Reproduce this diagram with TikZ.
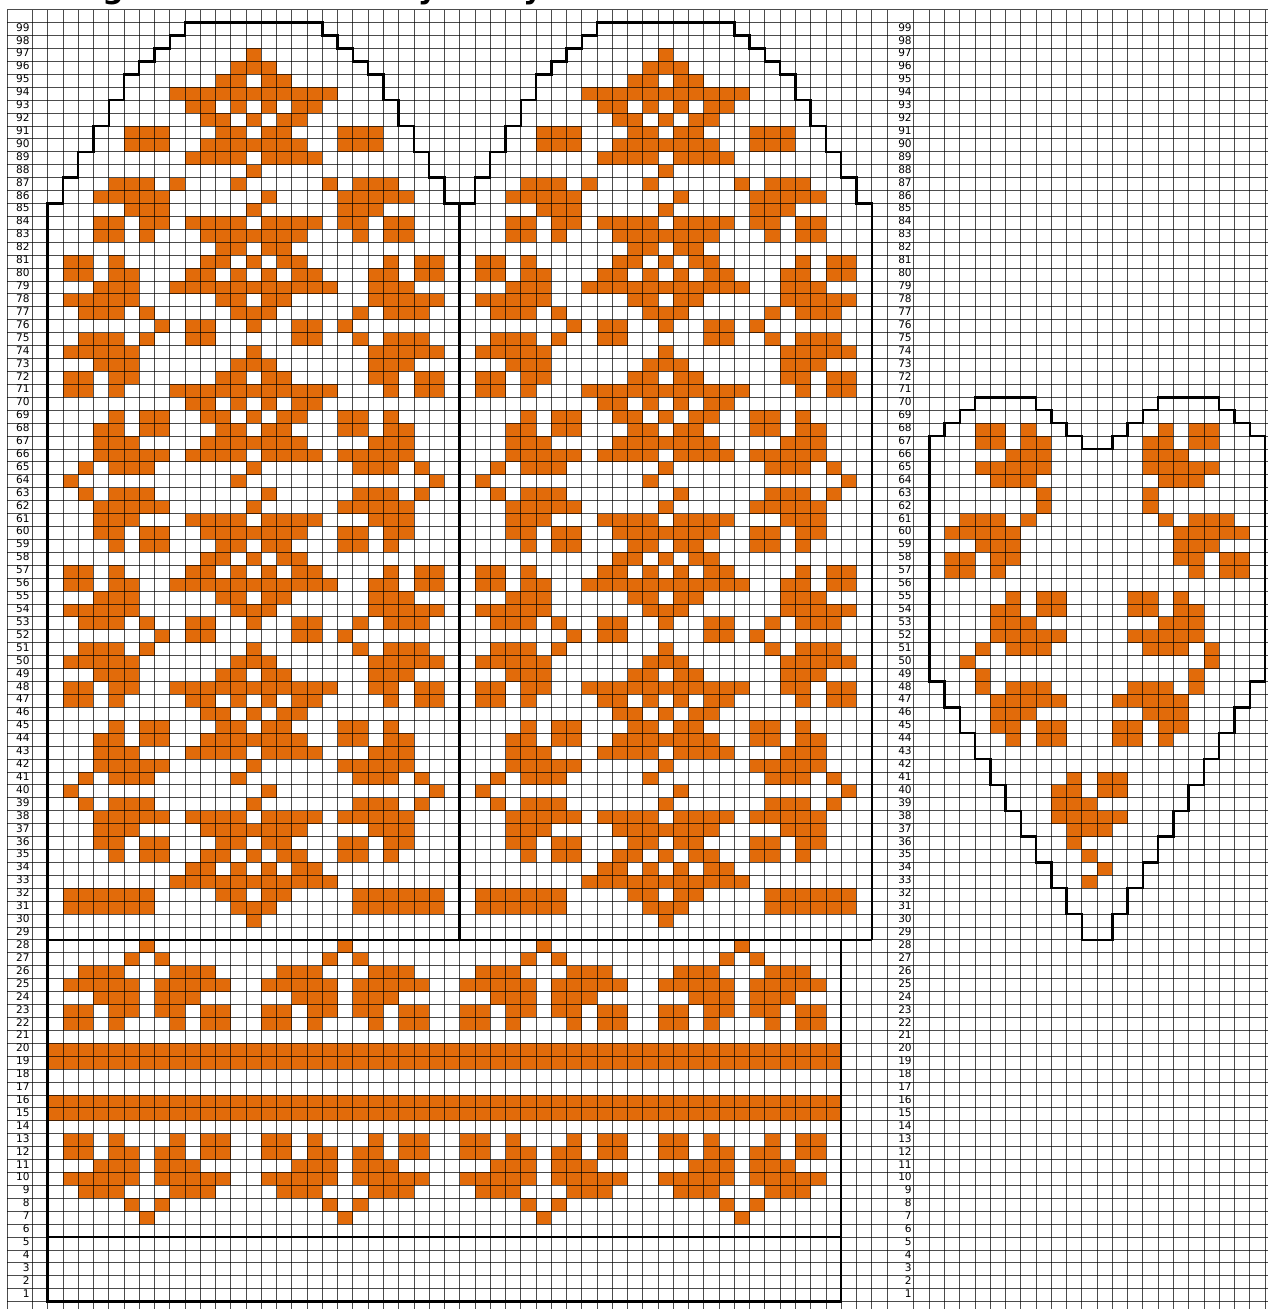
\documentclass[tikz,border=0pt]{standalone}
\usepackage{fontspec}
\setmainfont{DejaVu Sans}
\definecolor{yarn}{HTML}{E26B0A}

\newcommand*{\xmin}{-3.126}
\newcommand*{\xmax}{79.97}
\newcommand*{\ymin}{-0.565}
\newcommand*{\ymax}{100.75}
\newcommand*{\heartx}{57.77}

% row/{columns} of the coloured stitches
\newcommand*{\handcells}{%
97/{13},96/{12,13,14},95/{11,12,14,15},94/{8,9,10,11,12,13,14,15,16,17,18},93/{9,10,12,14,16,17},
92/{10,11,13,15,16},91/{5,6,7,11,12,14,15,19,20,21},90/{5,6,7,10,11,12,13,14,15,16,19,20,21},
89/{9,10,11,12,14,15,16,17},88/{13},87/{4,5,6,8,12,18,20,21,22},86/{3,4,5,6,7,14,19,20,21,22,23},
85/{5,6,7,13,19,20,21},84/{3,4,6,7,9,10,11,12,14,15,16,17,19,20,22,23},
83/{3,4,6,10,11,12,13,14,15,16,20,22,23},82/{11,12,14,15},81/{1,2,4,10,11,13,15,16,22,24,25},
80/{1,2,4,5,9,10,12,14,16,17,21,22,24,25},79/{3,4,5,8,9,10,11,12,13,14,15,16,17,18,21,22,23},
78/{1,2,3,4,5,11,12,14,15,21,22,23,24,25},77/{2,3,4,6,12,13,14,20,22,23,24},
76/{7,9,10,13,16,17,19},75/{2,3,4,6,9,10,16,17,20,22,23,24},74/{1,2,3,4,5,13,21,22,23,24,25},
73/{3,4,5,12,13,14,21,22,23},72/{1,2,4,5,11,12,14,15,21,22,24,25},
71/{1,2,4,8,9,10,11,12,13,14,15,16,17,18,22,24,25},70/{9,10,12,14,16,17},69/{4,6,7,10,11,13,15,16,19,20,22},
68/{3,4,6,7,11,12,14,15,19,20,22,23},67/{3,4,5,10,11,12,13,14,15,16,21,22,23},
66/{3,4,5,6,7,9,10,11,12,14,15,16,17,19,20,21,22,23},65/{2,4,5,6,13,20,21,22,24},64/{1,12,25},
63/{2,4,5,6,14,20,21,22,24},62/{3,4,5,6,7,13,19,20,21,22,23},61/{3,4,5,9,10,11,12,14,15,16,17,21,22,23},
60/{3,4,6,7,10,11,12,13,14,15,16,19,20,22,23},59/{4,6,7,11,12,14,15,19,20,22},58/{10,11,13,15,16},
57/{1,2,4,9,10,12,14,16,17,22,24,25},56/{1,2,4,5,8,9,10,11,12,13,14,15,16,17,18,21,22,24,25},
55/{3,4,5,11,12,14,15,21,22,23},54/{1,2,3,4,5,12,13,14,21,22,23,24,25},
53/{2,3,4,6,9,10,13,16,17,20,22,23,24},52/{7,9,10,16,17,19},51/{2,3,4,6,13,20,22,23,24},
50/{1,2,3,4,5,12,13,14,21,22,23,24,25},49/{3,4,5,11,12,14,15,21,22,23},
48/{1,2,4,5,8,9,10,11,12,13,14,15,16,17,18,21,22,24,25},
47/{1,2,4,9,10,12,14,16,17,22,24,25},46/{10,11,13,15,16},45/{4,6,7,11,12,14,15,19,20,22},
44/{3,4,6,7,10,11,12,13,14,15,16,19,20,22,23},43/{3,4,5,9,10,11,12,14,15,16,17,21,22,23},
42/{3,4,5,6,7,13,19,20,21,22,23},41/{2,4,5,6,12,20,21,22,24},40/{1,14,25},39/{2,4,5,6,13,20,21,22,24},
38/{3,4,5,6,7,9,10,11,12,14,15,16,17,19,20,21,22,23},37/{3,4,5,10,11,12,13,14,15,16,21,22,23},
36/{3,4,6,7,11,12,14,15,19,20,22,23},35/{4,6,7,10,11,13,15,16,19,20,22},34/{9,10,12,14,16,17},
33/{8,9,10,11,12,13,14,15,16,17,18},32/{1,2,3,4,5,6,11,12,14,15,20,21,22,23,24,25},
31/{1,2,3,4,5,6,12,13,14,20,21,22,23,24,25},30/{13}}
\newcommand*{\cuffcells}{%
28/{6},27/{5,7},26/{2,3,4,8,9,10},25/{1,2,3,4,5,7,8,9,10,11},24/{3,4,5,7,8,9},
23/{1,2,4,5,7,8,10,11},22/{1,2,4,8,10,11},13/{1,2,4,8,10,11},12/{1,2,4,5,7,8,10,11},
11/{3,4,5,7,8,9},10/{1,2,3,4,5,7,8,9,10,11},9/{2,3,4,8,9,10},8/{5,7},7/{6}}
\newcommand*{\heartcells}{%
68/{3,4,6,15,17,18},67/{3,4,6,7,14,15,17,18},66/{5,6,7,14,15,16},65/{3,4,5,6,7,14,15,16,17,18},
64/{4,5,6,15,16,17},63/{7,14},62/{7,14},61/{2,3,4,6,15,17,18,19},60/{1,2,3,4,5,16,17,18,19,20},
59/{3,4,5,16,17,18},58/{1,2,4,5,16,17,19,20},57/{1,2,4,17,19,20},55/{5,7,8,13,14,16},
54/{4,5,7,8,13,14,16,17},53/{4,5,6,15,16,17},52/{4,5,6,7,8,13,14,15,16,17},51/{3,5,6,7,14,15,16,18},
50/{2,18},49/{3,17},48/{3,5,6,7,13,14,15,17},47/{4,5,6,7,8,12,13,14,15,16},46/{4,5,6,14,15,16},
45/{4,5,7,8,12,13,15,16},44/{5,7,8,12,13,15},41/{9,11,12},40/{8,9,11,12},39/{8,9,10},
38/{8,9,10,11,12},37/{9,10,11},36/{9},35/{10},34/{11},33/{10}}

\begin{document}
\begin{tikzpicture}
[
	stitch/.style={fill=yarn},
	gridline/.style={black,draw opacity=0.7,line width=0.5pt},
	outline/.style={black,line width=1.4pt,line join=miter},
	rowlabel/.style={anchor=east,inner sep=0pt,font=\fontsize{6}{6}\selectfont},
	titlebit/.style={anchor=base,inner sep=0pt,font=\fontsize{17}{20}\selectfont\bfseries},
	xscale=0.3052,
	yscale=0.2584
]

	\useasboundingbox (\xmin,\ymin) rectangle (\xmax,\ymax);

	% what is left of the title
	\begin{scope}
		\clip (\xmin,\ymin) rectangle (\xmax,\ymax);
		\node[titlebit] (titleg) at (4.28,100.9) {g};
		\node[titlebit] (titley) at (24.9,100.9) {y};
		\node[titlebit] (titlez) at (31.8,100.9) {y};
	\end{scope}

	% coloured stitches
	\foreach \dx in {0,27}
		\foreach \r/\cols in \handcells
			\foreach \c in \cols
				\fill[stitch] (\c+\dx,\r-1) rectangle ++(1,1);
	\foreach \dx in {0,13,26,39}
		\foreach \r/\cols in \cuffcells
			\foreach \c in \cols
				\fill[stitch] (\c+\dx,\r-1) rectangle ++(1,1);
	\fill[stitch] (0,18) rectangle (52,20);
	\fill[stitch] (0,14) rectangle (52,16);
	\foreach \r/\cols in \heartcells
		\foreach \c in \cols
			\fill[stitch] (\c+\heartx,\r-1) rectangle ++(1,1);

	% row numbers
	\foreach \r in {1,...,99} {
		\node[rowlabel] (left\r) at (-1.16,\r-0.36) {\r};
		\node[rowlabel] (right\r) at (56.64,\r-0.36) {\r};
	}

	% grid
	\foreach \y in {0,...,100}
		\draw[gridline] (-2.647,\y) -- (\xmax,\y);
	\foreach \x in {-2.647,-1,0,1,...,55,56.74}
		\draw[gridline] (\x,\ymin) -- (\x,100);
	\foreach \x in {0,...,22}
		\draw[gridline] (\x+\heartx,\ymin) -- (\x+\heartx,100);

	% mittens
	\foreach \dx in {0,27}
		\draw[outline,shift={(\dx,0)}] (0,28) -- (0,85) -| (1,87) -| (2,89) -| (3,91) -| (4,93)
		  -| (5,95) -| (6,96) -| (7,97) -| (8,98) -| (9,99) -- (18,99) |- (19,98) |- (20,97)
		  |- (21,96) |- (22,95) |- (23,93) |- (24,91) |- (25,89) |- (26,87) |- (27,85) -- (27,28);
	\draw[outline] (0,28) -- (54,28);

	% cuff
	\draw[outline] (0,0) rectangle (52,28);
	\draw[outline] (0,5) -- (52,5);

	% heart
	\draw[outline,shift={(\heartx,0)}] (0,48) -- (0,67) -| (1,68) -| (2,69) -| (3,70) -- (7,70)
	  |- (8,69) |- (9,68) |- (10,67) -- (10,66) -- (12,66) |- (13,67) |- (14,68) |- (15,69)
	  -- (15,70) -- (19,70) |- (20,69) |- (21,68) |- (22,67) -- (22,48) -| (21,46) -| (20,44)
	  -| (19,42) -| (18,40) -| (17,38) -| (16,36) -| (15,34) -| (14,32) -| (13,30) -| (12,28)
	  -- (10,28) |- (9,30) |- (8,32) |- (7,34) |- (6,36) |- (5,38) |- (4,40) |- (3,42)
	  |- (2,44) |- (1,46) |- (0,48) -- cycle;

\end{tikzpicture}
\end{document}
